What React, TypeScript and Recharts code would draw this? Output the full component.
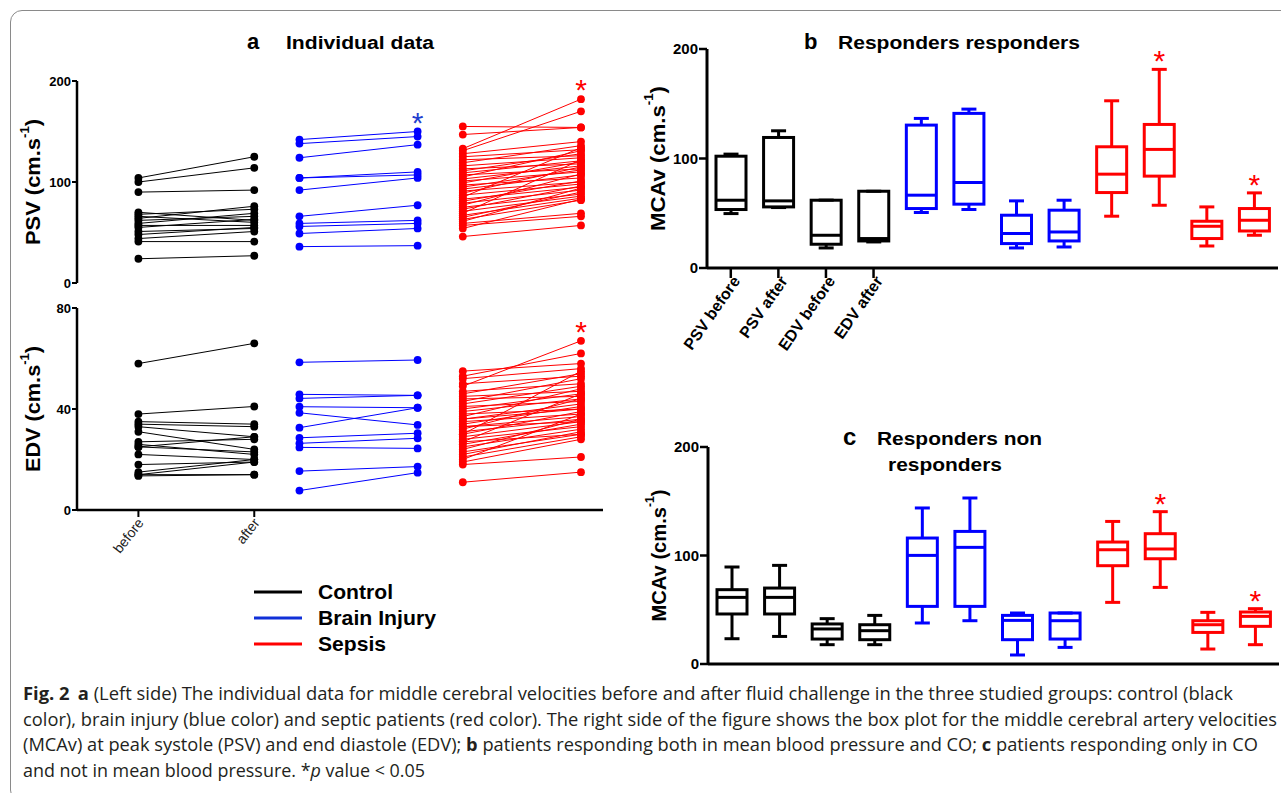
import React from 'react';
import { ScatterChart, Scatter, XAxis, YAxis, ReferenceDot, BarChart, Bar } from 'recharts';

const BLACK = '#000000';
const BLUE = '#0000ff';
const RED = '#ff0000';
const STAR_BLUE = '#1f3fcf';
const AXIS_FONT = '"Liberation Sans", Arial, sans-serif';
const CAPTION_FONT = '"Open Sans", "Liberation Sans", sans-serif';

// ---------- panel a : individual data, one line per patient ----------
const timeLabels = ['before', 'after'];
const controlX = [0, 1];
const brainX = [1.39, 2.41];
const sepsisX = [2.8, 3.82];

const controlPsvBefore = [104, 100, 90, 70, 68, 66, 64, 62, 59, 57, 55, 51, 48, 44, 41, 24];
const controlPsvAfter = [125, 114, 92, 62, 73, 60, 76, 66, 69, 57, 63, 54, 55, 51, 41, 27];
const controlEdvBefore = [58, 38, 35, 34, 33, 31, 27, 26, 25, 25, 22, 18, 15, 14, 14, 13.5];
const controlEdvAfter = [66, 41, 34, 33, 29, 24, 28, 22, 23, 29, 20, 19, 20, 19, 14, 14];

const brainPsvBefore = [142, 138, 124, 104, 104, 92, 66, 59, 56, 49, 36];
const brainPsvAfter = [150, 145, 137, 107, 110, 104, 77, 62, 59, 54, 37];
const brainEdvBefore = [58.5, 45.8, 44.2, 40.9, 38.5, 32.6, 28.6, 26.4, 24.8, 15.4, 7.7];
const brainEdvAfter = [59.4, 45.4, 45.4, 40.5, 33.7, 40.5, 30.4, 28.4, 24.4, 17.2, 14.8];

const sepsisPsvBefore = [155, 147, 133, 131, 128, 125, 122, 119, 116, 113, 111, 109, 107, 105, 103, 101, 99, 97, 95, 93,
  91, 89, 87, 85, 83, 81, 79, 77, 75, 73, 71, 69, 67, 65, 63, 61, 59, 57, 54, 46];
const sepsisPsvAfter = [154, 154, 182, 170, 140, 132, 126, 136, 124, 118, 128, 121, 113, 131, 116, 110, 120, 104, 112, 107,
  100, 115, 98, 134, 95, 101, 92, 108, 88, 96, 86, 122, 84, 90, 82, 94, 69, 66, 83, 57];
const sepsisEdvBefore = [55, 53, 52, 50, 49, 47, 46, 45, 44, 43, 42, 41, 40, 39, 38, 37, 36, 35, 34, 33,
  32, 31, 30, 29, 28, 27, 26, 25, 24, 23, 22, 21, 20, 19, 18, 36, 33, 30, 27, 11];
const sepsisEdvAfter = [58, 62, 56, 53, 67, 50, 54, 47, 45, 52, 49, 43, 46, 44, 40, 48, 42, 38, 41, 37,
  44, 36, 39, 35, 33, 46, 34, 32, 36, 30, 31, 29, 38, 28, 21, 40, 35, 55, 30, 15];

// ---------- panels b & c : box plots ----------
const boxNames = ['PSV before', 'PSV after', 'EDV before', 'EDV after',
  'BI PSV before', 'BI PSV after', 'BI EDV before', 'BI EDV after',
  'S PSV before', 'S PSV after', 'S EDV before', 'S EDV after'];
const boxColors = [BLACK, BLACK, BLACK, BLACK, BLUE, BLUE, BLUE, BLUE, RED, RED, RED, RED];
const labelledTicks = boxNames.slice(0, 4);

const respLow = [49.7, 55.2, 18.3, 23.8, 50.7, 53.4, 18.3, 19.2, 47.3, 57.3, 20.1, 29.9];
const respQ1 = [53.4, 55.8, 21.7, 24.7, 54.3, 58.3, 22.3, 24.7, 68.9, 83.9, 26.9, 33.8];
const respMedian = [61.9, 61.3, 29.9, 26.9, 66.5, 78.1, 31.5, 32.9, 85.7, 108.3, 38.1, 43.6];
const respQ3 = [102.1, 119.2, 61.9, 70.1, 130.5, 141.2, 48.2, 52.8, 110.7, 131.1, 42.7, 54.3];
const respHigh = [104, 125.3, 62, 70.1, 136.6, 145.1, 61.3, 61.9, 152.7, 181.4, 55.8, 68.6];
const respStars = [9, 11];

const nonLow = [23.3, 25.4, 17.8, 17.8, 37.8, 39.9, 8.3, 15.3, 56.8, 70.6, 13.8, 17.8];
const nonQ1 = [46.1, 46.1, 23, 22.4, 53.1, 53.1, 22.4, 23, 90.6, 97, 29.1, 34.7];
const nonMedian = [61.4, 61.4, 32.3, 30.7, 100.1, 107.5, 40.2, 39.9, 105.3, 106, 36.2, 43.9];
const nonQ3 = [68.5, 70, 36.9, 36.2, 116.1, 122.2, 44.8, 47, 112.4, 120.1, 39.9, 47.9];
const nonHigh = [89.4, 90.9, 41.8, 44.8, 143.8, 153, 47, 47, 131.4, 140.4, 47.6, 51];
const nonStars = [9, 11];

type Pt = { x: number; y: number };
type Series = { color: string; data: Pt[] };

const buildPairs = (before: number[], after: number[], xs: number[], color: string): Series[] =>
  before.map((b, i) => ({ color, data: [{ x: xs[0], y: b }, { x: xs[1], y: after[i] }] }));

const psvSeries = [
  ...buildPairs(controlPsvBefore, controlPsvAfter, controlX, BLACK),
  ...buildPairs(brainPsvBefore, brainPsvAfter, brainX, BLUE),
  ...buildPairs(sepsisPsvBefore, sepsisPsvAfter, sepsisX, RED),
];
const edvSeries = [
  ...buildPairs(controlEdvBefore, controlEdvAfter, controlX, BLACK),
  ...buildPairs(brainEdvBefore, brainEdvAfter, brainX, BLUE),
  ...buildPairs(sepsisEdvBefore, sepsisEdvAfter, sepsisX, RED),
];
const psvStars = [
  { x: brainX[1], y: Math.max(...brainPsvAfter), color: STAR_BLUE },
  { x: sepsisX[1], y: Math.max(...sepsisPsvAfter), color: RED },
];
const edvStars = [{ x: sepsisX[1], y: Math.max(...sepsisEdvAfter), color: RED }];

const buildRows = (low: number[], q1: number[], med: number[], q3: number[], high: number[], stars: number[]) =>
  boxNames.map((name, i) => ({
    name, low: low[i], q1: q1[i], median: med[i], q3: q3[i], high: high[i],
    color: boxColors[i], star: stars.includes(i),
  }));

const respRows = buildRows(respLow, respQ1, respMedian, respQ3, respHigh, respStars);
const nonRows = buildRows(nonLow, nonQ1, nonMedian, nonQ3, nonHigh, nonStars);

const Star = ({ cx, cy, color }: any) => (
  <text x={cx} y={cy + 3} textAnchor="middle" fontSize={30} fontFamily={AXIS_FONT} fill={color}>*</text>
);

const AxisTitle = ({ viewBox, text, dx, len, size }: any) => {
  const cx = viewBox.x + dx;
  const cy = viewBox.y + viewBox.height / 2;
  return (
    <text x={cx} y={cy} transform={`rotate(-90, ${cx}, ${cy})`} textAnchor="middle" dominantBaseline="central"
      fontSize={size} fontWeight="bold" fontFamily={AXIS_FONT} fill={BLACK}
      textLength={len} lengthAdjust="spacingAndGlyphs">
      {text} (cm.s<tspan fontSize={size * 0.6} dy={-size * 0.4}>-1</tspan><tspan dy={size * 0.4}>)</tspan>
    </text>
  );
};

const TimeTick = ({ x, y, payload }: any) => (
  <text x={x + 6} y={y + 4} transform={`rotate(-52, ${x + 6}, ${y + 4})`} textAnchor="end"
    fontSize={14} fontFamily={AXIS_FONT} fill="#222">
    {timeLabels[payload.value]}
  </text>
);

const BoxTick = ({ x, y, payload }: any) => (
  <text x={x + 10} y={y + 1} transform={`rotate(-55, ${x + 10}, ${y + 1})`} textAnchor="end"
    fontSize={16} fontWeight="bold" fontFamily={AXIS_FONT} fill={BLACK}>
    {payload.value}
  </text>
);

const BoxShape = (props: any) => {
  const { x, y, width, height, payload } = props;
  const top = Math.min(y, y + height);
  const bottom = Math.max(y, y + height);
  const span = payload.high - payload.low || 1;
  const py = (v: number) => bottom - ((bottom - top) * (v - payload.low)) / span;
  const cx = x + width / 2;
  const cap = width / 4;
  const c = payload.color;
  return (
    <g>
      <g stroke={c} strokeWidth={3} fill="none">
        <line x1={cx} x2={cx} y1={py(payload.high)} y2={py(payload.q3)} />
        <line x1={cx} x2={cx} y1={py(payload.q1)} y2={py(payload.low)} />
        <line x1={cx - cap} x2={cx + cap} y1={py(payload.high)} y2={py(payload.high)} />
        <line x1={cx - cap} x2={cx + cap} y1={py(payload.low)} y2={py(payload.low)} />
        <rect x={x} y={py(payload.q3)} width={width} height={py(payload.q1) - py(payload.q3)} />
        <line x1={x} x2={x + width} y1={py(payload.median)} y2={py(payload.median)} />
      </g>
      {payload.star && <Star cx={cx} cy={py(payload.high) - 1} color={RED} />}
    </g>
  );
};

const yTickStyle = (size: number) => ({ fill: BLACK, fontSize: size, fontWeight: 'bold', fontFamily: AXIS_FONT });

function IndividualPanel({ top, height, series, yMax, yTicks, title, stars, showX }: any) {
  return (
    <div style={{ position: 'absolute', left: 0, top }}>
      <ScatterChart width={603} height={height} margin={{ top: 10, right: 0, bottom: showX ? 0 : 10, left: 0 }}>
        <XAxis type="number" dataKey="x" domain={[-0.53, 4.01]} ticks={[0, 1]} interval={0} hide={!showX}
          height={60} allowDataOverflow axisLine={{ stroke: BLACK, strokeWidth: 2.5 }}
          tickLine={{ stroke: BLACK, strokeWidth: 2 }} tickSize={7} tick={(p: any) => <TimeTick {...p} />} />
        <YAxis type="number" dataKey="y" domain={[0, yMax]} ticks={yTicks} interval={0} width={77}
          axisLine={{ stroke: BLACK, strokeWidth: 2.5 }} tickLine={{ stroke: BLACK, strokeWidth: 2 }}
          tickSize={5} tickMargin={1} tick={yTickStyle(13)}
          label={{ content: (p: any) => <AxisTitle {...p} text={title} dx={33} len={126} size={20} /> }} />
        {series.map((s: Series, i: number) => (
          <Scatter key={i} data={s.data} fill={s.color} line={{ stroke: s.color, strokeWidth: 1 }}
            shape={(p: any) => <circle cx={p.cx} cy={p.cy} r={3.9} fill={s.color} />}
            isAnimationActive={false} />
        ))}
        {stars.map((s: any, i: number) => (
          <ReferenceDot key={`star-${i}`} x={s.x} y={s.y} r={0}
            shape={(p: any) => <Star cx={p.cx} cy={p.cy - 2} color={s.color} />} />
        ))}
      </ScatterChart>
    </div>
  );
}

function BoxPanel({ left, top, height, xHeight, rows, showLabels, titleLen }: any) {
  return (
    <div style={{ position: 'absolute', left, top }}>
      <BarChart width={648} height={height} data={rows} margin={{ top: 10, right: 0, bottom: 0, left: 0 }}>
        {showLabels ? (
          <XAxis dataKey="name" type="category" height={xHeight} ticks={labelledTicks} interval={0}
            axisLine={{ stroke: BLACK, strokeWidth: 3 }} tickLine={{ stroke: BLACK, strokeWidth: 2.5 }}
            tickSize={10} tick={(p: any) => <BoxTick {...p} />} />
        ) : (
          <XAxis dataKey="name" type="category" height={xHeight} axisLine={{ stroke: BLACK, strokeWidth: 3 }}
            tickLine={false} tick={false} />
        )}
        <YAxis type="number" domain={[0, 200]} ticks={[0, 100, 200]} interval={0} width={77}
          axisLine={{ stroke: BLACK, strokeWidth: 3 }} tickLine={{ stroke: BLACK, strokeWidth: 2.5 }}
          tickSize={8} tickMargin={1} tick={yTickStyle(15)}
          label={{ content: (p: any) => <AxisTitle {...p} text="MCAv" dx={27} len={titleLen} size={21} /> }} />
        <Bar dataKey={(d: any) => [d.low, d.high]} barSize={30} isAnimationActive={false}
          shape={(p: any) => <BoxShape {...p} />} />
      </BarChart>
    </div>
  );
}

const Title = ({ y, letter, letterSize, lines }: any) => (
  <g fontFamily={AXIS_FONT} fontWeight="bold" fill={BLACK}>
    <text x={letter.x} y={y} fontSize={letterSize}>{letter.text}</text>
    {lines.map((l: any, i: number) => (
      <text key={i} x={l.x} y={l.y} fontSize={18} textLength={l.len} lengthAdjust="spacingAndGlyphs">{l.text}</text>
    ))}
  </g>
);

const legendItems = [
  { label: 'Control', color: BLACK, len: 75 },
  { label: 'Brain Injury', color: '#1030d8', len: 118 },
  { label: 'Sepsis', color: RED, len: 68 },
];

export default function App() {
  return (
    <div style={{ position: 'absolute', left: 0, top: 0, width: 1281, height: 793, overflow: 'hidden', background: '#fff' }}>
      <div style={{ position: 'absolute', left: 10, top: 10, width: 1300, height: 790, border: '1px solid #8a8a8a', borderRadius: 12 }} />

      <IndividualPanel top={71} height={222} series={psvSeries} yMax={200} yTicks={[0, 100, 200]}
        title="PSV" stars={psvStars} showX={false} />
      <IndividualPanel top={298} height={272} series={edvSeries} yMax={80} yTicks={[0, 40, 80]}
        title="EDV" stars={edvStars} showX />

      <BoxPanel left={630} top={39} height={324} xHeight={95} rows={respRows} showLabels titleLen={145} />
      <BoxPanel left={631} top={437} height={237} xHeight={10} rows={nonRows} showLabels={false} titleLen={132} />

      <svg width={1281} height={793} style={{ position: 'absolute', left: 0, top: 0, pointerEvents: 'none' }}>
        <Title y={49} letterSize={22} letter={{ x: 247, text: 'a' }}
          lines={[{ x: 286, y: 49, len: 148, text: 'Individual data' }]} />
        <Title y={49} letterSize={22} letter={{ x: 804, text: 'b' }}
          lines={[{ x: 838, y: 49, len: 242, text: 'Responders responders' }]} />
        <Title y={445} letterSize={24} letter={{ x: 843, text: 'c' }}
          lines={[{ x: 877, y: 445, len: 165, text: 'Responders non' }, { x: 888, y: 471, len: 114, text: 'responders' }]} />

        {legendItems.map((it, i) => (
          <g key={it.label}>
            <line x1={254} x2={302} y1={592 + i * 26} y2={592 + i * 26} stroke={it.color} strokeWidth={3} />
            <text x={318} y={599 + i * 26} fontSize={21} fontWeight="bold" fontFamily={AXIS_FONT}
              textLength={it.len} lengthAdjust="spacingAndGlyphs">{it.label}</text>
          </g>
        ))}

        <g fontFamily={CAPTION_FONT} fontSize={18} fill="#231f20">
          <text x={23} y={700} textLength={1210} lengthAdjust="spacingAndGlyphs">
            <tspan fontWeight="bold">Fig. 2</tspan><tspan fontWeight="bold" dx={8}>a</tspan> (Left side) The individual data for middle cerebral velocities before and after fluid challenge in the three studied groups: control (black
          </text>
          <text x={23} y={726} textLength={1254} lengthAdjust="spacingAndGlyphs">
            color), brain injury (blue color) and septic patients (red color). The right side of the figure shows the box plot for the middle cerebral artery velocities
          </text>
          <text x={23} y={751} textLength={1235} lengthAdjust="spacingAndGlyphs">
            (MCAv) at peak systole (PSV) and end diastole (EDV); <tspan fontWeight="bold">b</tspan> patients responding both in mean blood pressure and CO; <tspan fontWeight="bold">c</tspan> patients responding only in CO
          </text>
          <text x={23} y={777} textLength={402} lengthAdjust="spacingAndGlyphs">
            and not in mean blood pressure. *<tspan fontStyle="italic">p</tspan> value &lt; 0.05
          </text>
        </g>
      </svg>
    </div>
  );
}
